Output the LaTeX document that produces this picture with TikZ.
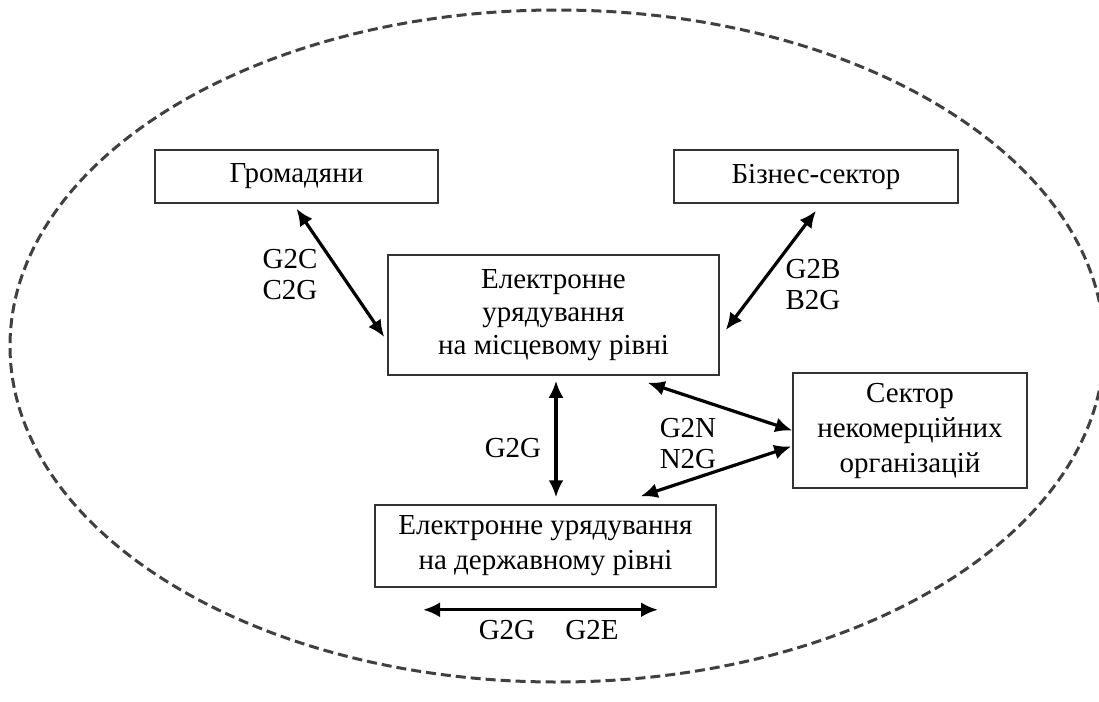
\documentclass[tikz,border=0pt]{standalone}
\usepackage{fontspec}
\setmainfont{Liberation Serif}
\usetikzlibrary{positioning}
\usetikzlibrary{arrows.meta}

\begin{document}
\begin{tikzpicture}[x=0.5pt,y=-0.5pt,
	box/.style={draw=black!80,line width=0.75pt,align=center,inner sep=0pt,font=\fontsize{14.5}{16.5}\selectfont},
	lbl/.style={align=center,inner sep=0pt,font=\fontsize{14.5}{15.5}\selectfont},
	link/.style={{Latex[length=8.5pt,width=7.5pt]}-{Latex[length=8.5pt,width=7.5pt]},line width=1.6pt},
	border/.style={draw=black!75,dash pattern=on 5pt off 2.5pt,line width=1.5pt}]
	\useasboundingbox (0,0) rectangle (1099,702);
	\draw[border] (557,346) ellipse [x radius=547,y radius=336];
	% boxes
	\node[box,minimum width=141.5pt,minimum height=26.5pt] (grom) at (296.5,176.5) {Громадяни};
	\node[box,minimum width=142pt,minimum height=26.5pt] (biz) at (816,176.5) {Бізнес-сектор};
	\node[box,minimum width=165.5pt,minimum height=60pt] (loc) at (553.5,315) {Електронне\\урядування\\на місцевому рівні};
	\node[box,minimum width=117pt,minimum height=57.5pt,font=\fontsize{14.5}{17.5}\selectfont] (ngo) at (910,430.5) {Сектор\\некомерційних\\організацій};
	\node[box,minimum width=170.5pt,minimum height=41pt,font=\fontsize{14.5}{17.5}\selectfont] (st) at (545.5,546) {Електронне урядування\\на державному рівні};
	\coordinate (st_l) at ([shift={(-122.5,22)}]st.south);
	\coordinate (st_r) at ([shift={(112.5,22)}]st.south);
	% labels
	\node[lbl] (g2c) at (290,275) {G2C\\C2G};
	\node[lbl] (g2b) at (813,285) {G2B\\B2G};
	\node[lbl] (g2g) at (513,448) {G2G};
	\node[lbl] (g2n) at (688,444) {G2N\\N2G};
	\node[lbl] (g2g_st) at (507,630) {G2G};
	\node[lbl] (g2e) at (592,630) {G2E};
	\path[link]
	([shift={(0,5)}]grom.south) edge ([shift={(-3,22)}]loc.west)
	([shift={(0,7)}]biz.south) edge ([shift={(6,15)}]loc.east)
	([shift={(2.5,5)}]loc.south) edge ([shift={(10.5,-7)}]st.north)
	([shift={(-72,7)}]loc.south east) edge (ngo.west)
	([shift={(-1,16)}]ngo.west) edge ([shift={(-76,-8)}]st.north east)
	(st_l) edge (st_r);
\end{tikzpicture}
\end{document}
